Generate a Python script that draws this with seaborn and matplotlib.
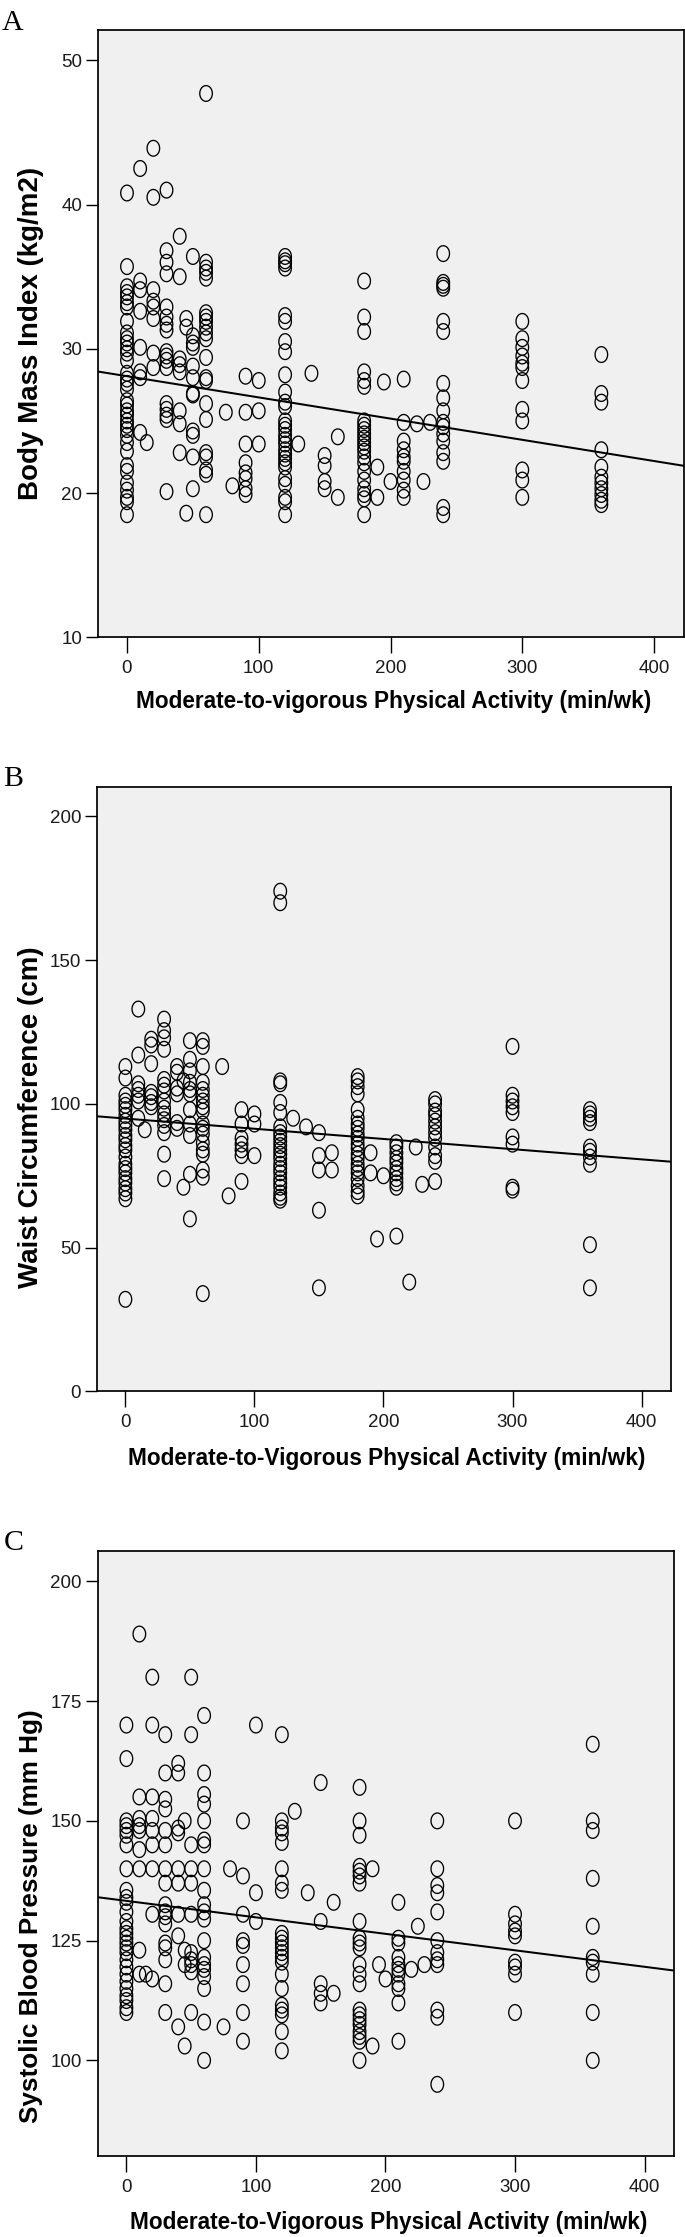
import numpy as np
import pandas as pd
import matplotlib
matplotlib.use("Agg")
import matplotlib.pyplot as plt
import seaborn as sns
from matplotlib.path import Path

# ---------------- data ----------------
# Panel A: Body Mass Index by MVPA (min/wk); each entry = (MVPA, [BMI values])
bmi_columns = [
    (0, [40.8, 35.7, 34.3, 33.9, 33.6, 33.2, 32.9, 31.9, 31.1, 30.7, 30.4, 30.0, 29.7, 29.2,
         28.3, 27.9, 27.6, 27.2, 26.4, 26.1, 25.7, 25.4, 25.0, 24.7, 24.4, 24.0, 23.5, 22.9,
         21.9, 21.5, 20.7, 20.2, 19.7, 19.4, 18.5]),
    (10, [42.5, 34.7, 34.1, 32.6, 30.1, 28.4, 28.0, 24.2]),
    (15, [23.5]),
    (20, [43.9, 40.5, 34.1, 33.3, 32.9, 32.1, 29.7, 28.7]),
    (30, [41.0, 36.8, 36.0, 35.2, 32.9, 32.2, 31.7, 31.3, 29.8, 29.5, 29.2, 28.7, 26.2, 25.8,
          25.4, 25.1, 20.1]),
    (40, [37.8, 35.0, 29.3, 28.9, 28.4, 25.7, 24.8, 22.8]),
    (45, [32.1, 31.5, 18.6]),
    (50, [36.4, 30.9, 30.4, 30.1, 28.8, 28.0, 26.9, 26.8, 24.3, 24.0, 22.5, 20.3]),
    (60, [47.7, 36.0, 35.6, 35.3, 34.9, 32.5, 32.2, 31.9, 31.5, 31.1, 30.7, 29.4, 28.0, 27.8,
          26.2, 25.1, 22.8, 22.5, 21.6, 21.3, 18.5]),
    (75, [25.6]),
    (80, [20.5]),
    (90, [28.1, 25.6, 23.4, 22.1, 21.4, 21.0, 20.3, 19.9]),
    (100, [27.8, 25.7, 23.4]),
    (120, [36.4, 36.1, 35.9, 35.6, 32.3, 31.9, 30.5, 29.8, 28.2, 27.0, 26.3, 26.0, 25.0, 24.7,
           24.4, 24.0, 23.7, 23.4, 23.0, 22.7, 22.4, 22.1, 21.8, 21.0, 20.6, 19.7, 19.4, 18.5]),
    (130, [23.4]),
    (140, [28.3]),
    (150, [22.6, 21.9, 20.8, 20.3]),
    (160, [23.9, 19.7]),
    (180, [34.7, 32.2, 31.2, 28.4, 27.8, 27.4, 25.0, 24.7, 24.4, 24.1, 23.8, 23.5, 23.2, 22.9,
           22.5, 22.1, 21.5, 20.9, 20.3, 19.9, 19.6, 18.5]),
    (190, [21.8, 19.7]),
    (195, [27.7]),
    (200, [20.8]),
    (210, [27.9, 24.9, 23.6, 23.0, 22.5, 22.2, 21.5, 20.9, 20.2, 19.7]),
    (220, [24.8]),
    (225, [20.8]),
    (230, [24.9]),
    (240, [36.6, 34.6, 34.4, 34.2, 31.9, 31.2, 27.6, 26.6, 25.7, 24.9, 24.6, 24.1, 23.6, 22.8,
           22.2, 19.0, 18.5]),
    (300, [31.9, 30.7, 30.1, 29.5, 29.0, 28.7, 27.8, 25.8, 25.0, 21.6, 20.9, 19.7]),
    (360, [29.6, 26.9, 26.3, 23.0, 21.8, 21.1, 20.7, 20.3, 19.9, 19.5, 19.2]),
]

# Panel B: Waist circumference (cm) by MVPA
waist_columns = [
    (0, [113, 109, 103, 101, 99.5, 98, 96, 94, 92.5, 91, 89, 87.5, 85.5, 84, 81.5, 79, 77.5,
         76, 74, 72.5, 70.5, 69, 67, 32]),
    (10, [133, 117, 107, 105, 103, 101, 95]),
    (15, [91]),
    (20, [122.5, 120.5, 114, 104, 102.5, 100.5, 99]),
    (30, [129.5, 125.5, 123, 119, 108.5, 106.5, 104.5, 101, 98.5, 96.5, 94.5, 92.5, 90, 82.5, 74]),
    (40, [113, 111, 105.5, 103.5, 93.5, 91.5]),
    (45, [108, 71]),
    (50, [122, 115.5, 111.5, 107.5, 105, 103.5, 98, 93, 89, 75.5, 60]),
    (60, [122, 120, 113, 107.5, 105, 103, 101, 99, 97.5, 93, 91.5, 89.5, 86.5, 84, 82.5, 77,
          74.5, 34]),
    (75, [113]),
    (80, [68]),
    (90, [98, 93, 88, 86, 84, 82, 73]),
    (100, [96.5, 93, 82]),
    (120, [174, 170, 108, 107, 100.5, 97, 92, 90, 88.5, 87, 85.5, 84, 82.5, 81, 79, 77.5, 76,
           74, 72.5, 71, 69, 67.5, 66.5]),
    (130, [95]),
    (140, [92]),
    (150, [90, 82, 77, 63, 36]),
    (160, [83, 77]),
    (180, [109.5, 108, 106, 103.5, 98, 95, 93, 91.5, 89.5, 88, 86, 84.5, 82.5, 81, 79, 77.5,
           76, 74, 71.5, 69.5, 68]),
    (190, [83, 76]),
    (195, [53]),
    (200, [75]),
    (210, [86.5, 85, 83, 81, 79.5, 77.5, 76, 74, 72.5, 71, 54]),
    (220, [38]),
    (225, [85]),
    (230, [72]),
    (240, [101.5, 100, 97.5, 96, 94, 92, 90, 88, 85, 82, 80, 73]),
    (300, [120, 103, 101, 99, 97, 88.5, 86, 71, 70]),
    (360, [98, 96.5, 95, 93.5, 85, 83.5, 81.5, 79, 51, 36]),
]

# Panel C: Systolic blood pressure (mm Hg) by MVPA
sbp_columns = [
    (0, [170, 163, 150, 149, 148, 147, 145, 140, 135.5, 134, 133, 131, 129, 127.5, 126.5, 125.5,
         124.5, 123.5, 122.5, 121, 119.5, 118, 116.5, 115, 113.5, 112.5, 111, 110]),
    (10, [189, 155, 150.5, 149, 148, 144, 140, 123, 118]),
    (15, [118]),
    (20, [180, 170, 155, 150.5, 148, 145, 140, 130.5, 117]),
    (30, [168, 160, 154.5, 152.5, 148, 145, 140, 137, 132.5, 131, 130, 128.5, 124.5, 123.5,
          121, 116, 110]),
    (40, [162, 160, 148.5, 147.5, 140, 137, 130.5, 126, 107]),
    (45, [150, 123, 120, 103]),
    (50, [180, 168, 145, 140, 137, 130.5, 122.5, 121, 120, 118.5, 110]),
    (60, [172, 160, 155.5, 153.5, 150, 146, 145, 140, 135.5, 132.5, 131, 129.5, 125, 121.5,
          120, 119, 117.5, 115, 108, 100]),
    (75, [107]),
    (80, [140]),
    (90, [150, 138.5, 130.5, 125, 124, 120, 116, 110, 104]),
    (100, [170, 135, 129]),
    (120, [168, 150, 148.5, 147.5, 145.5, 140, 137, 135.5, 126.5, 125.5, 124.5, 123.5, 122.5,
           121.5, 120.5, 118, 115, 111.5, 110.5, 109.5, 106, 102]),
    (130, [152]),
    (140, [135]),
    (150, [158, 129, 116, 114, 112]),
    (160, [133, 114]),
    (180, [157, 150, 147, 140.5, 139.5, 138.5, 137, 129, 125.5, 124.5, 123.5, 120, 118, 116,
           110.5, 109.5, 108.5, 107.5, 106, 105, 104, 100]),
    (190, [140, 103]),
    (195, [120]),
    (200, [117]),
    (210, [133, 125.5, 124.5, 121.5, 120, 119, 118, 116, 115, 112, 104]),
    (220, [119]),
    (225, [128]),
    (230, [120]),
    (240, [150, 140, 136.5, 135, 131, 125, 122.5, 121, 120, 110.5, 109, 95]),
    (300, [150, 130.5, 128.5, 127, 126, 120.5, 119.5, 118, 110]),
    (360, [166, 150, 148, 138, 128, 121.5, 120.5, 118, 110, 100]),
]

# Fitted regression lines (intercept, slope)
fit_intercepts = [28.1, 94.9, 133.3]
fit_slopes = [-0.0147, -0.0355, -0.0344]

panel_letters = ["A", "B", "C"]
y_labels = ["Body Mass Index (kg/m2)", "Waist Circumference (cm)",
            "Systolic Blood Pressure (mm Hg)"]
x_labels = ["Moderate-to-vigorous Physical Activity (min/wk)",
            "Moderate-to-Vigorous Physical Activity (min/wk)",
            "Moderate-to-Vigorous Physical Activity (min/wk)"]
x_ticks = [0, 100, 200, 300, 400]
y_ticks = [[10, 20, 30, 40, 50], [0, 50, 100, 150, 200], [100, 125, 150, 175, 200]]
y_limits = [(10, 52.1), (0, 210.4), (80, 206.4)]
x_limits = (-22, 422.5)

# ---------------- layout (pixels of a 685 x 2237 canvas) ----------------
W, H = 685, 2237
axes_boxes = [(98, 30, 683.7, 637.3), (97, 786.6, 670.6, 1391.3), (97.9, 1550.7, 673.7, 2156.2)]
letter_pos = [(13, 29.5), (13, 786), (14, 1550)]
xlabel_pos = [(394, 708.5), (387, 1465), (389, 2229)]
ylabel_pos = [(30.6, 333.6), (30.6, 1117), (30.6, 1916)]
ylabel_size = [20, 20, 18.8]

sns.set_theme(style="ticks")
plt.rcParams["font.family"] = ["Liberation Sans", "DejaVu Sans"]

fig = plt.figure(figsize=(W / 100, H / 100), dpi=100)
fig.patch.set_facecolor("white")

tt = np.linspace(0, 2 * np.pi, 73)
ellipse = Path(np.column_stack([0.80 * np.cos(tt), np.sin(tt)]), closed=True)


def to_df(columns):
    rows = [(x, y) for x, ys in columns for y in ys]
    return pd.DataFrame(rows, columns=["mvpa", "value"])


datasets = [to_df(bmi_columns), to_df(waist_columns), to_df(sbp_columns)]

for i, df in enumerate(datasets):
    l, t, r, b = axes_boxes[i]
    ax = fig.add_axes([l / W, 1 - b / H, (r - l) / W, (b - t) / H])
    ax.set_facecolor("#f0f0f0")

    sns.scatterplot(data=df, x="mvpa", y="value", ax=ax, marker=ellipse, s=128,
                    facecolor="none", edgecolor="black", linewidth=0.95, legend=False,
                    zorder=3)
    fx = np.array(x_limits, dtype=float)
    fy = fit_intercepts[i] + fit_slopes[i] * fx
    sns.lineplot(x=fx, y=fy, ax=ax, color="black", linewidth=1.45, zorder=4)

    ax.set_xlim(*x_limits)
    ax.set_ylim(*y_limits[i])
    ax.set_xticks(x_ticks)
    ax.set_yticks(y_ticks[i])
    ax.tick_params(axis="x", length=11.5, width=1.0, pad=5.0, labelsize=13.5,
                   colors="black", labelcolor="#1a1a1a", direction="out")
    ax.tick_params(axis="y", length=9.0, width=1.0, pad=2.5, labelsize=13.5,
                   colors="black", labelcolor="#1a1a1a", direction="out")
    for sp in ax.spines.values():
        sp.set_visible(True)
        sp.set_linewidth(1.25)
        sp.set_color("black")

    ax.set_xlabel(x_labels[i], fontsize=16.3, fontweight="bold", color="black")
    ax.xaxis.set_label_coords(xlabel_pos[i][0] / W, 1 - xlabel_pos[i][1] / H,
                              transform=fig.transFigure)
    ax.xaxis.label.set_verticalalignment("baseline")

    ax.set_ylabel(y_labels[i], fontsize=ylabel_size[i], fontweight="bold", color="black")
    ax.yaxis.set_label_coords(ylabel_pos[i][0] / W, 1 - ylabel_pos[i][1] / H,
                              transform=fig.transFigure)
    ax.yaxis.label.set_verticalalignment("center")

    fig.text(letter_pos[i][0] / W, 1 - letter_pos[i][1] / H, panel_letters[i],
             family=["Liberation Serif", "DejaVu Serif"], fontsize=21.5,
             ha="center", va="baseline", color="black")

fig.savefig("out.png", dpi=100, facecolor="white")
